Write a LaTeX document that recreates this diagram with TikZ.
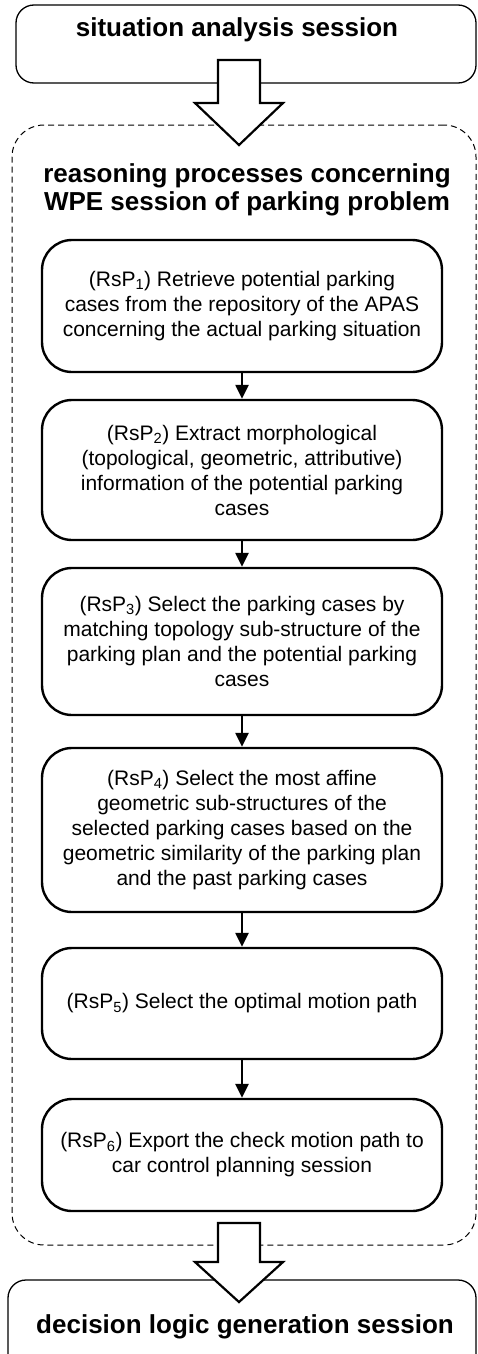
\documentclass[tikz,border=0pt]{standalone}
\usepackage{fontspec}
\setmainfont{Liberation Sans}
\usetikzlibrary{arrows.meta,calc}
\tikzset{
  stepbox/.style={draw, line width=2.4pt, rounded corners=30pt, minimum width=400pt, align=center,
    font=\fontsize{21}{25}\selectfont, inner sep=0pt},
  outerbox/.style={draw, line width=1.3pt, rounded corners=18pt, inner sep=0pt},
  dashbox/.style={draw, line width=1pt, dash pattern=on 6pt off 4pt, rounded corners=32pt, inner sep=0pt},
  boldtxt/.style={font=\fontsize{26}{28}\selectfont\bfseries, align=center, inner sep=0pt},
  flow/.style={line width=2.4pt, -{Triangle[length=14pt,width=13pt]}},
  bigarrow/.style={draw, fill=white, line width=2.2pt, line join=miter}
}
\begin{document}
\begin{tikzpicture}[x=1pt,y=-1pt]
\useasboundingbox (0,0) rectangle (477,1354);
\clip (0,0) rectangle (477,1354);
% dashed container
\node[dashbox, minimum width=464pt, minimum height=1120pt] (cont) at (244,685) {};
% top and bottom session boxes
\node[outerbox, minimum width=460pt, minimum height=78pt] (sit) at (246,44) {};
\node[boldtxt] (sitt) at (237,30) {situation analysis session};
\node[outerbox, minimum width=468pt, minimum height=100pt] (dec) at (242,1330) {};
\node[boldtxt] (dect) at (245,1327) {decision logic generation session};
% title
\node[boldtxt] (title) at (247,190) {reasoning processes concerning\\WPE session of parking problem};
% steps
\node[stepbox, minimum height=132pt] (s1) at (242,306) {(RsP\textsubscript{1}) Retrieve potential parking\\cases from the repository of the APAS\\concerning the actual parking situation};
\node[stepbox, minimum height=140pt] (s2) at (242,470) {(RsP\textsubscript{2}) Extract morphological\\(topological, geometric, attributive)\\information of the potential parking\\cases};
\node[stepbox, minimum height=147pt] (s3) at (242,641.5) {(RsP\textsubscript{3}) Select the parking cases by\\matching topology sub-structure of the\\parking plan and the potential parking\\cases};
\node[stepbox, minimum height=164pt] (s4) at (242,830) {(RsP\textsubscript{4}) Select the most affine\\geometric sub-structures of the\\selected parking cases based on the\\geometric similarity of the parking plan\\and the past parking cases};
\node[stepbox, minimum height=111pt] (s5) at (242,1003.5) {(RsP\textsubscript{5}) Select the optimal motion path};
\node[stepbox, minimum height=112pt] (s6) at (242,1155) {(RsP\textsubscript{6}) Export the check motion path to\\car control planning session};
% flow arrows
\draw[flow] (s1.south) -- (s2.north);
\draw[flow] (s2.south) -- (s3.north);
\draw[flow] (s3.south) -- (s4.north);
\draw[flow] (s4.south) -- (s5.north);
\draw[flow] (s5.south) -- (s6.north);
% big hollow arrows
\coordinate (a1) at (239,60);
\draw[bigarrow] ($(a1)+(-21,0)$) -- ($(a1)+(21,0)$) -- ($(a1)+(21,43)$) -- ($(a1)+(44,43)$) -- ($(a1)+(0,85)$) -- ($(a1)+(-44,43)$) -- ($(a1)+(-21,43)$) -- cycle;
\coordinate (a2) at (239,1223);
\draw[bigarrow] ($(a2)+(-21,0)$) -- ($(a2)+(21,0)$) -- ($(a2)+(21,39)$) -- ($(a2)+(44,39)$) -- ($(a2)+(0,79)$) -- ($(a2)+(-44,39)$) -- ($(a2)+(-21,39)$) -- cycle;
\end{tikzpicture}
\end{document}
